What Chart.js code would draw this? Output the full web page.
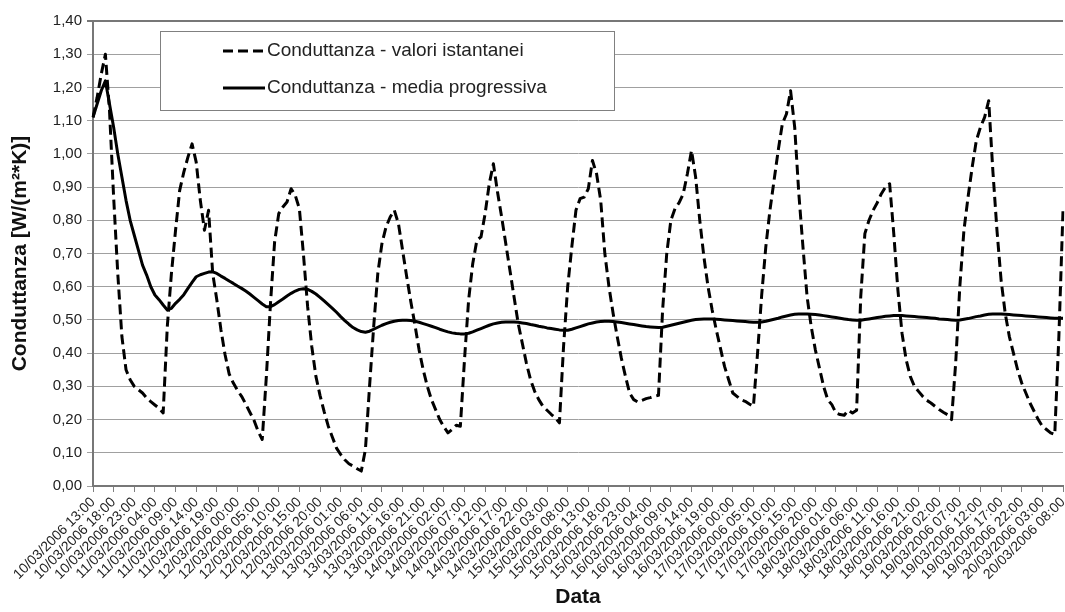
<!DOCTYPE html>
<html>
<head>
<meta charset="utf-8">
<title>Conduttanza</title>
<script src="https://cdn.jsdelivr.net/npm/chart.js@4.4.0/dist/chart.umd.min.js"></script>
<style>
    html, body { margin: 0; padding: 0; background: #fff; }
    #contenitore { width: 1065px; height: 612px; }
</style>
</head>
<body>
<div id="contenitore"><canvas id="conduttanza" width="1065" height="612"></canvas></div>
<script>
// Etichette dell'asse X (una ogni 5 ore)
const TICK_LABELS = [
    '10/03/2006 13:00', '10/03/2006 18:00', '10/03/2006 23:00',
    '11/03/2006 04:00', '11/03/2006 09:00', '11/03/2006 14:00', '11/03/2006 19:00',
    '12/03/2006 00:00', '12/03/2006 05:00', '12/03/2006 10:00', '12/03/2006 15:00', '12/03/2006 20:00',
    '13/03/2006 01:00', '13/03/2006 06:00', '13/03/2006 11:00', '13/03/2006 16:00', '13/03/2006 21:00',
    '14/03/2006 02:00', '14/03/2006 07:00', '14/03/2006 12:00', '14/03/2006 17:00', '14/03/2006 22:00',
    '15/03/2006 03:00', '15/03/2006 08:00', '15/03/2006 13:00', '15/03/2006 18:00', '15/03/2006 23:00',
    '16/03/2006 04:00', '16/03/2006 09:00', '16/03/2006 14:00', '16/03/2006 19:00',
    '17/03/2006 00:00', '17/03/2006 05:00', '17/03/2006 10:00', '17/03/2006 15:00', '17/03/2006 20:00',
    '18/03/2006 01:00', '18/03/2006 06:00', '18/03/2006 11:00', '18/03/2006 16:00', '18/03/2006 21:00',
    '19/03/2006 02:00', '19/03/2006 07:00', '19/03/2006 12:00', '19/03/2006 17:00', '19/03/2006 22:00',
    '20/03/2006 03:00', '20/03/2006 08:00'
];

// Conduttanza - valori istantanei (un valore ogni ora)
const valoriIstantanei = [
    1.11, 1.17, 1.24, 1.30, 1.13, 0.87, 0.64, 0.45, 0.35, 0.32,
    0.30, 0.29, 0.28, 0.265, 0.254, 0.244, 0.234, 0.22, 0.48, 0.64,
    0.77, 0.89, 0.945, 0.99, 1.03, 0.975, 0.86, 0.77, 0.83, 0.64,
    0.56, 0.47, 0.395, 0.337, 0.31, 0.288, 0.27, 0.247, 0.222, 0.198,
    0.165, 0.14, 0.33, 0.55, 0.735, 0.82, 0.84, 0.855, 0.895, 0.875,
    0.835, 0.695, 0.54, 0.42, 0.33, 0.273, 0.224, 0.18, 0.147, 0.114,
    0.095, 0.079, 0.067, 0.06, 0.052, 0.045, 0.11, 0.30, 0.48, 0.64,
    0.73, 0.78, 0.81, 0.83, 0.79, 0.71, 0.63, 0.555, 0.485, 0.41,
    0.35, 0.30, 0.26, 0.23, 0.20, 0.178, 0.16, 0.17, 0.183, 0.18,
    0.38, 0.56, 0.67, 0.74, 0.75, 0.82, 0.91, 0.97, 0.885, 0.81,
    0.73, 0.65, 0.57, 0.49, 0.43, 0.37, 0.32, 0.285, 0.26, 0.24,
    0.228, 0.216, 0.205, 0.19, 0.42, 0.60, 0.72, 0.83, 0.865, 0.87,
    0.895, 0.98, 0.94, 0.86, 0.70, 0.60, 0.52, 0.45, 0.385, 0.33,
    0.28, 0.26, 0.253, 0.258, 0.263, 0.266, 0.27, 0.273, 0.53, 0.70,
    0.80, 0.835, 0.853, 0.88, 0.94, 1.01, 0.93, 0.80, 0.69, 0.60,
    0.53, 0.47, 0.415, 0.36, 0.32, 0.28, 0.27, 0.26, 0.255, 0.247,
    0.24, 0.40, 0.575, 0.72, 0.83, 0.92, 1.01, 1.09, 1.12, 1.19,
    1.08, 0.88, 0.72, 0.57, 0.48, 0.41, 0.355, 0.30, 0.26, 0.245,
    0.22, 0.215, 0.213, 0.228, 0.22, 0.228, 0.57, 0.76, 0.80, 0.83,
    0.853, 0.88, 0.90, 0.91, 0.76, 0.59, 0.46, 0.38, 0.33, 0.30,
    0.285, 0.27, 0.258, 0.25, 0.24, 0.23, 0.222, 0.215, 0.20, 0.37,
    0.60, 0.77, 0.87, 0.96, 1.04, 1.08, 1.11, 1.16, 0.95, 0.77,
    0.62, 0.52, 0.45, 0.40, 0.35, 0.31, 0.28, 0.25, 0.225, 0.20,
    0.18, 0.17, 0.16, 0.155, 0.45, 0.83
];

// Conduttanza - media progressiva
const mediaProgressiva = [
    1.11, 1.15, 1.19, 1.22, 1.15, 1.08, 1.00, 0.93, 0.86, 0.80,
    0.755, 0.71, 0.665, 0.635, 0.60, 0.575, 0.561, 0.545, 0.53, 0.535,
    0.55, 0.562, 0.576, 0.595, 0.613, 0.63, 0.636, 0.64, 0.644, 0.645,
    0.64, 0.632, 0.625, 0.617, 0.61, 0.602, 0.595, 0.587, 0.578, 0.568,
    0.558, 0.548, 0.54, 0.54, 0.546, 0.555, 0.563, 0.572, 0.58, 0.587,
    0.592, 0.594, 0.592, 0.586, 0.578, 0.568, 0.557, 0.546, 0.535, 0.523,
    0.51, 0.498, 0.487, 0.477, 0.47, 0.465, 0.463, 0.466, 0.472, 0.478,
    0.484, 0.489, 0.493, 0.496, 0.498, 0.499, 0.499, 0.498, 0.496, 0.493,
    0.489, 0.485, 0.481, 0.477, 0.472, 0.468, 0.464, 0.461, 0.459, 0.458,
    0.458, 0.46, 0.464, 0.469, 0.474, 0.479, 0.484, 0.488, 0.491, 0.493,
    0.494, 0.494, 0.494, 0.493, 0.491, 0.489, 0.486, 0.484, 0.481, 0.479,
    0.476, 0.474, 0.472, 0.47, 0.469, 0.469, 0.472, 0.476, 0.48, 0.484,
    0.488, 0.491, 0.494, 0.495, 0.496, 0.496, 0.495, 0.494, 0.492, 0.49,
    0.488, 0.486, 0.484, 0.482, 0.48, 0.479, 0.478, 0.477, 0.478, 0.481,
    0.484, 0.487, 0.49, 0.493, 0.496, 0.499, 0.501, 0.502, 0.503, 0.503,
    0.503, 0.502, 0.501, 0.50, 0.499, 0.498, 0.497, 0.496, 0.495, 0.494,
    0.493, 0.493, 0.494, 0.496, 0.499, 0.502, 0.505, 0.509, 0.512, 0.515,
    0.517, 0.518, 0.518, 0.518, 0.517, 0.516, 0.515, 0.513, 0.511, 0.509,
    0.507, 0.505, 0.503, 0.501, 0.50, 0.499, 0.499, 0.501, 0.503, 0.505,
    0.507, 0.509, 0.511, 0.512, 0.513, 0.513, 0.513, 0.512, 0.511, 0.51,
    0.509, 0.508, 0.507, 0.506, 0.505, 0.503, 0.502, 0.501, 0.50, 0.499,
    0.50, 0.502, 0.504, 0.507, 0.51, 0.512, 0.515, 0.517, 0.518, 0.518,
    0.518, 0.517, 0.516, 0.515, 0.514, 0.513, 0.512, 0.511, 0.51, 0.509,
    0.508, 0.507, 0.506, 0.505, 0.505, 0.505
];

// Categorie orarie a partire dal 10/03/2006 13:00
const due = n => String(n).padStart(2, '0');
const inizio = Date.UTC(2006, 2, 10, 13);
const categorie = valoriIstantanei.map((_, i) => {
    const d = new Date(inizio + i * 3600000);
    return `${due(d.getUTCDate())}/${due(d.getUTCMonth() + 1)}/${d.getUTCFullYear()} ${due(d.getUTCHours())}:00`;
});

const FONT = '"Liberation Sans", Arial, sans-serif';
Chart.defaults.font.family = FONT;

// Legenda dentro l'area del grafico, come in Excel
const legendaBox = {
    id: 'legendaBox',
    afterDraw(chart) {
        const ctx = chart.ctx;
        ctx.save();
        ctx.fillStyle = '#fff';
        ctx.fillRect(160.5, 31.5, 454, 79);
        ctx.strokeStyle = '#808080';
        ctx.lineWidth = 1;
        ctx.strokeRect(160.5, 31.5, 454, 79);
        chart.data.datasets.forEach((ds, i) => {
            const y = 51 + i * 37;
            ctx.beginPath();
            ctx.setLineDash(ds.borderDash || []);
            ctx.lineWidth = 3;
            ctx.strokeStyle = '#000';
            ctx.moveTo(223, y);
            ctx.lineTo(265, y);
            ctx.stroke();
            ctx.setLineDash([]);
            ctx.font = '19px ' + FONT;
            ctx.fillStyle = '#222';
            ctx.textBaseline = 'middle';
            ctx.textAlign = 'left';
            ctx.fillText(ds.label, 267, y);
        });
        ctx.restore();
    }
};

const grafico = new Chart(document.getElementById('conduttanza').getContext('2d'), {
    type: 'line',
    data: {
        labels: categorie,
        datasets: [
            {
                label: 'Conduttanza - valori istantanei',
                data: valoriIstantanei,
                borderColor: '#000',
                borderWidth: 3,
                borderDash: [10, 5],
                borderJoinStyle: 'round',
                pointRadius: 0,
                tension: 0,
                fill: false
            },
            {
                label: 'Conduttanza - media progressiva',
                data: mediaProgressiva,
                borderColor: '#000',
                borderWidth: 3,
                borderJoinStyle: 'round',
                pointRadius: 0,
                tension: 0,
                fill: false
            }
        ]
    },
    options: {
        responsive: false,
        animation: false,
        devicePixelRatio: 1,
        layout: { padding: { top: 21, right: 2, bottom: 0, left: 0 } },
        plugins: {
            legend: { display: false },
            tooltip: { enabled: false }
        },
        scales: {
            x: {
                ticks: {
                    autoSkip: false,
                    minRotation: 45,
                    maxRotation: 45,
                    padding: 2,
                    color: '#222',
                    font: { size: 14 },
                    callback: (v, i) => TICK_LABELS[i]
                },
                grid: { drawOnChartArea: false, drawTicks: true, tickLength: 6, color: '#808080' },
                border: { color: '#777', width: 2 },
                title: {
                    display: true,
                    text: 'Data',
                    color: '#111',
                    font: { size: 21, weight: 'bold' },
                    padding: { top: 0, bottom: 2 }
                },
                afterBuildTicks: s => { s.ticks = s.ticks.filter(t => t.value % 5 === 0); },
                afterFit: s => { s.height = 126; s.paddingLeft = 0; s.paddingRight = 0; }
            },
            y: {
                min: 0,
                max: 1.4,
                ticks: {
                    stepSize: 0.1,
                    padding: 5,
                    color: '#222',
                    font: { size: 15 },
                    callback: v => v.toFixed(2).replace('.', ',')
                },
                grid: {
                    color: c => (c.tick && Math.abs(c.tick.value - 1.4) < 1e-6) ? '#777' : '#a0a0a0',
                    lineWidth: c => (c.tick && Math.abs(c.tick.value - 1.4) < 1e-6) ? 2 : 1,
                    tickLength: 6
                },
                border: { color: '#777', width: 2 },
                title: {
                    display: true,
                    text: 'Conduttanza [W/(m²*K)]',
                    color: '#111',
                    font: { size: 21, weight: 'bold' },
                    padding: { top: 8, bottom: 0 }
                },
                afterFit: s => { s.width = 93; }
            }
        }
    },
    plugins: [legendaBox]
});
</script>
</body>
</html>
